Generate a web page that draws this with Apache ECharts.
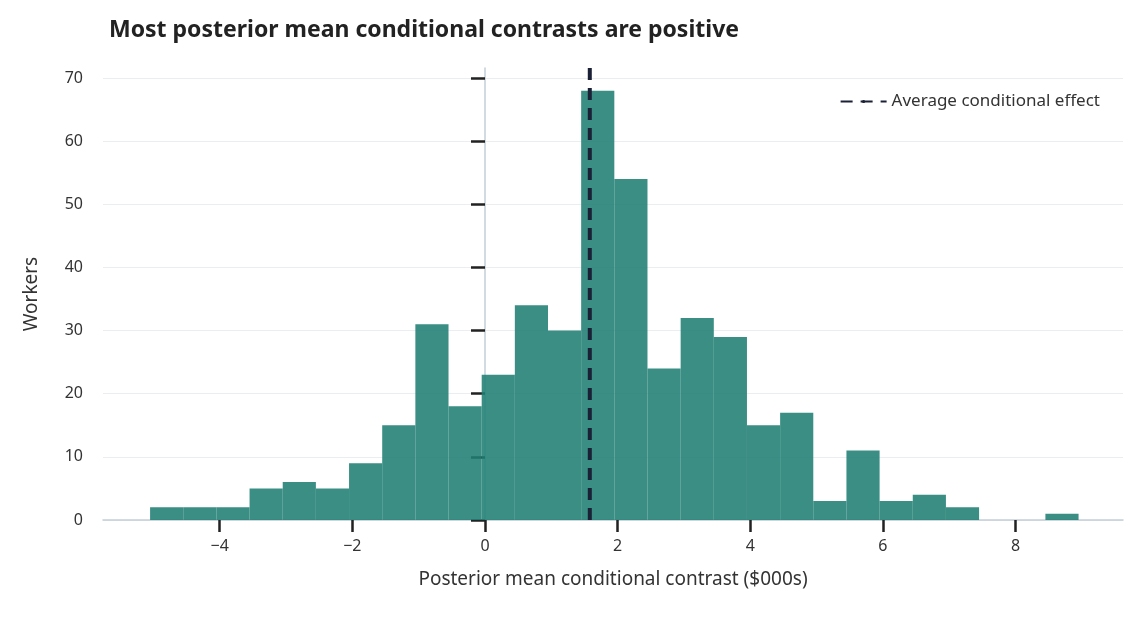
<!DOCTYPE html>
<html>
<head>
<meta charset="utf-8">
<script src="https://cdn.jsdelivr.net/npm/echarts@6/dist/echarts.min.js"></script>
<style>html,body{margin:0;padding:0;background:#fff}#chart{width:1143px;height:623px}</style>
</head>
<body>
<div id="chart"></div>
<script>
// histogram bins (left edges, width 0.5) and counts
const binEdges = [-5.05, -4.55, -4.05, -3.55, -3.05, -2.55, -2.05, -1.55, -1.05, -0.55,
  -0.05, 0.45, 0.95, 1.45, 1.95, 2.45, 2.95, 3.45, 3.95, 4.45, 4.95, 5.45, 5.95, 6.45,
  6.95, 7.45, 7.95, 8.45, 8.95];
const counts = [2, 2, 2, 5, 6, 5, 9, 15, 31, 18, 23, 34, 30, 68, 54, 24, 32, 29, 15, 17,
  3, 11, 3, 4, 2, 0, 0, 1];
const meanEffect = 1.58;
const xTicks = [-4, -2, 0, 2, 4, 6, 8];

const font = "'Noto Sans', sans-serif";
const histData = counts.map((c, i) => [binEdges[i], binEdges[i + 1], c]);

const chart = echarts.init(document.getElementById("chart"));
chart.setOption({
  animation: false,
  textStyle: { fontFamily: font },
  title: {
    text: "Most posterior mean conditional contrasts are positive",
    left: 104, top: 14,
    textStyle: { fontSize: 23, fontWeight: "bold", color: "#222", fontFamily: font }
  },
  grid: { left: 103, right: 20, top: 68, bottom: 103 },
  legend: {
    right: 38, top: 88,
    itemWidth: 46, itemHeight: 4, itemGap: 10,
    textStyle: { fontSize: 17, color: "#333" },
    data: ["Average conditional effect"]
  },
  xAxis: {
    type: "value", min: -5.76, max: 9.62,
    name: "Posterior mean conditional contrast ($000s)",
    nameLocation: "middle", nameGap: 50,
    nameTextStyle: { fontSize: 19, color: "#333" },
    axisLine: { lineStyle: { color: "#c3ced9", width: 1.5 } },
    axisTick: { show: true, length: 12, lineStyle: { color: "#222", width: 2.5 },
      customValues: xTicks },
    axisLabel: { fontSize: 16, color: "#333", margin: 18, customValues: xTicks,
      formatter: v => (v < 0 ? "\u2212" + (-v) : "" + v) },
    splitLine: { show: false }
  },
  yAxis: {
    type: "value", min: 0, max: 71.6, interval: 10,
    name: "Workers", nameLocation: "middle", nameGap: 62,
    nameTextStyle: { fontSize: 19, color: "#333" },
    axisLine: { show: true, lineStyle: { color: "#c3ced9", width: 1.5 } },
    axisTick: { show: true, length: 14, lineStyle: { color: "#222", width: 2.5 },
      customValues: [0, 10, 20, 30, 40, 50, 60, 70] },
    axisLabel: { fontSize: 16, color: "#333", margin: 20,
      customValues: [0, 10, 20, 30, 40, 50, 60, 70] },
    splitLine: { show: true, lineStyle: { color: "#ebeef1", width: 1 } }
  },
  series: [
    {
      type: "custom",
      data: histData,
      renderItem: function (params, api) {
        const p0 = api.coord([api.value(0), api.value(2)]);
        const p1 = api.coord([api.value(1), 0]);
        return {
          type: "rect",
          shape: { x: p0[0], y: p0[1], width: p1[0] - p0[0], height: p1[1] - p0[1] },
          style: { fill: "#1f7e73", opacity: 0.88 }
        };
      },
      encode: { x: [0, 1], y: 2 },
      z: 2
    },
    {
      name: "Average conditional effect",
      type: "line",
      data: [[meanEffect, 0], [meanEffect, 71.6]],
      symbol: "none",
      lineStyle: { color: "#1a2036", width: 4, type: [12, 8] },
      itemStyle: { color: "#1a2036" },
      z: 5
    }
  ]
});
</script>
</body>
</html>
